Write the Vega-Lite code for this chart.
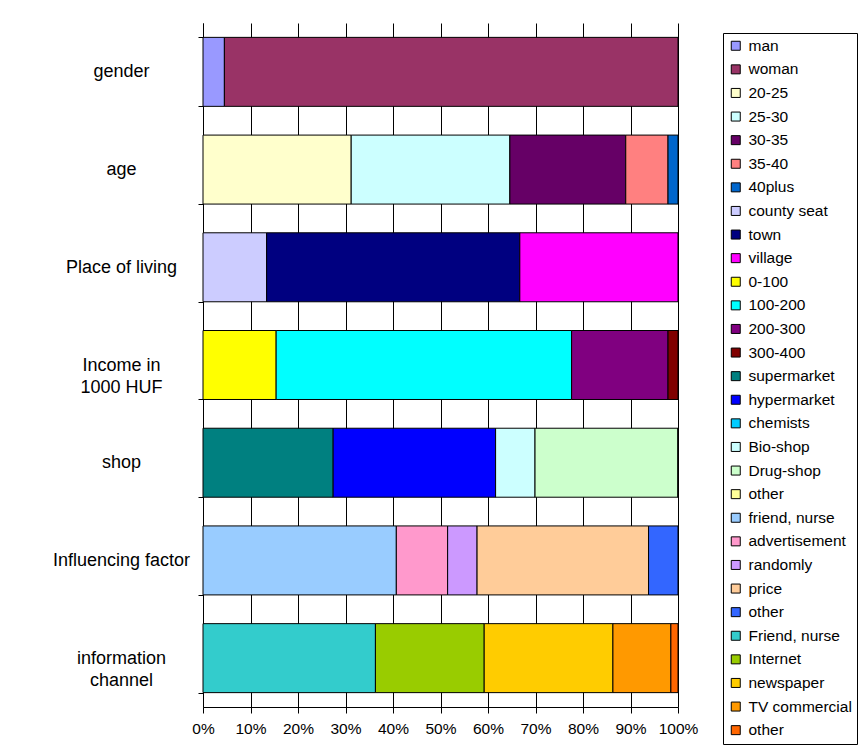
{
  "$schema": "https://vega.github.io/schema/vega-lite/v6.json",
  "width": 475,
  "height": 684,
  "autosize": {"type": "none"},
  "padding": {"left": 203, "top": 23, "right": 181, "bottom": 47},
  "background": "white",
  "config": {
    "font": "Liberation Sans",
    "view": {"stroke": null},
    "axis": {
      "domainColor": "black",
      "tickColor": "black",
      "gridColor": "black",
      "gridOpacity": 1,
      "labelColor": "black",
      "domainWidth": 1,
      "tickWidth": 1,
      "gridWidth": 1
    }
  },
  "data": {
    "values": [
      {"group": "gender", "answer": "man", "o": 1, "pct": 4.5},
      {"group": "gender", "answer": "woman", "o": 2, "pct": 95.5},
      {"group": "age", "answer": "20-25", "o": 1, "pct": 31.2},
      {"group": "age", "answer": "25-30", "o": 2, "pct": 33.4},
      {"group": "age", "answer": "30-35", "o": 3, "pct": 24.4},
      {"group": "age", "answer": "35-40", "o": 4, "pct": 8.9},
      {"group": "age", "answer": "40plus", "o": 5, "pct": 2.1},
      {"group": "Place of living", "answer": "county seat", "o": 1, "pct": 13.4},
      {"group": "Place of living", "answer": "town", "o": 2, "pct": 53.3},
      {"group": "Place of living", "answer": "village", "o": 3, "pct": 33.3},
      {"group": "Income in 1000 HUF", "answer": "0-100", "o": 1, "pct": 15.4},
      {"group": "Income in 1000 HUF", "answer": "100-200", "o": 2, "pct": 62.2},
      {"group": "Income in 1000 HUF", "answer": "200-300", "o": 3, "pct": 20.3},
      {"group": "Income in 1000 HUF", "answer": "300-400", "o": 4, "pct": 2.1},
      {"group": "shop", "answer": "supermarket", "o": 1, "pct": 27.4},
      {"group": "shop", "answer": "hypermarket", "o": 2, "pct": 34.2},
      {"group": "shop", "answer": "chemists", "o": 3, "pct": 0},
      {"group": "shop", "answer": "Bio-shop", "o": 4, "pct": 8.3},
      {"group": "shop", "answer": "Drug-shop", "o": 5, "pct": 30.1},
      {"group": "shop", "answer": "other (shop)", "o": 6, "pct": 0},
      {"group": "Influencing factor", "answer": "friend, nurse", "o": 1, "pct": 40.7},
      {"group": "Influencing factor", "answer": "advertisement", "o": 2, "pct": 10.8},
      {"group": "Influencing factor", "answer": "randomly", "o": 3, "pct": 6.2},
      {"group": "Influencing factor", "answer": "price", "o": 4, "pct": 36.1},
      {"group": "Influencing factor", "answer": "other (factor)", "o": 5, "pct": 6.2},
      {"group": "information channel", "answer": "Friend, nurse", "o": 1, "pct": 36.3},
      {"group": "information channel", "answer": "Internet", "o": 2, "pct": 22.9},
      {"group": "information channel", "answer": "newspaper", "o": 3, "pct": 27.1},
      {"group": "information channel", "answer": "TV commercial", "o": 4, "pct": 12.2},
      {"group": "information channel", "answer": "other (channel)", "o": 5, "pct": 1.5}
    ]
  },
  "mark": {"type": "bar", "stroke": "black", "strokeWidth": 1},
  "encoding": {
    "y": {
      "field": "group",
      "type": "nominal",
      "sort": ["gender", "age", "Place of living", "Income in 1000 HUF", "shop", "Influencing factor", "information channel"],
      "scale": {"paddingInner": 0.294, "paddingOuter": 0.147},
      "axis": {
        "title": null,
        "grid": false,
        "tickBand": "extent",
        "tickSize": 5,
        "labelAlign": "center",
        "labelBaseline": "middle",
        "labelPadding": 77,
        "labelFontSize": 18,
        "labelLimit": 0,
        "labelLineHeight": 22,
        "labelExpr": "datum.label == 'Income in 1000 HUF' ? ['Income in', '1000 HUF'] : datum.label == 'information channel' ? ['information', 'channel'] : datum.label"
      }
    },
    "x": {
      "field": "pct",
      "type": "quantitative",
      "stack": "normalize",
      "scale": {"domain": [0, 1], "nice": false},
      "axis": {
        "title": null,
        "format": "%",
        "values": [0, 0.1, 0.2, 0.3, 0.4, 0.5, 0.6, 0.7, 0.8, 0.9, 1],
        "grid": true,
        "tickSize": 6,
        "labelFontSize": 15.5,
        "labelPadding": 8,
        "labelFlush": false,
        "labelOverlap": false
      }
    },
    "color": {
      "field": "answer",
      "type": "nominal",
      "scale": {
        "domain": ["man", "woman", "20-25", "25-30", "30-35", "35-40", "40plus", "county seat", "town", "village", "0-100", "100-200", "200-300", "300-400", "supermarket", "hypermarket", "chemists", "Bio-shop", "Drug-shop", "other (shop)", "friend, nurse", "advertisement", "randomly", "price", "other (factor)", "Friend, nurse", "Internet", "newspaper", "TV commercial", "other (channel)"],
        "range": ["#9999FF", "#993366", "#FFFFCC", "#CCFFFF", "#660066", "#FF8080", "#0066CC", "#CCCCFF", "#000080", "#FF00FF", "#FFFF00", "#00FFFF", "#800080", "#800000", "#008080", "#0000FF", "#00CCFF", "#CCFFFF", "#CCFFCC", "#FFFF99", "#99CCFF", "#FF99CC", "#CC99FF", "#FFCC99", "#3366FF", "#33CCCC", "#99CC00", "#FFCC00", "#FF9900", "#FF6600"]
      },
      "legend": {
        "title": null,
        "orient": "none",
        "legendX": 520,
        "legendY": 10,
        "direction": "vertical",
        "columns": 1,
        "symbolType": "square",
        "symbolSize": 81,
        "symbolStrokeColor": "black",
        "symbolStrokeWidth": 1,
        "symbolOpacity": 1,
        "labelFontSize": 15.5,
        "labelColor": "black",
        "labelOffset": 5,
        "labelLimit": 0,
        "rowPadding": 6.6,
        "padding": 5,
        "strokeColor": "black",
        "fillColor": "white",
        "labelExpr": "split(datum.label, ' (')[0]"
      }
    },
    "order": {"field": "o", "type": "quantitative"}
  }
}
